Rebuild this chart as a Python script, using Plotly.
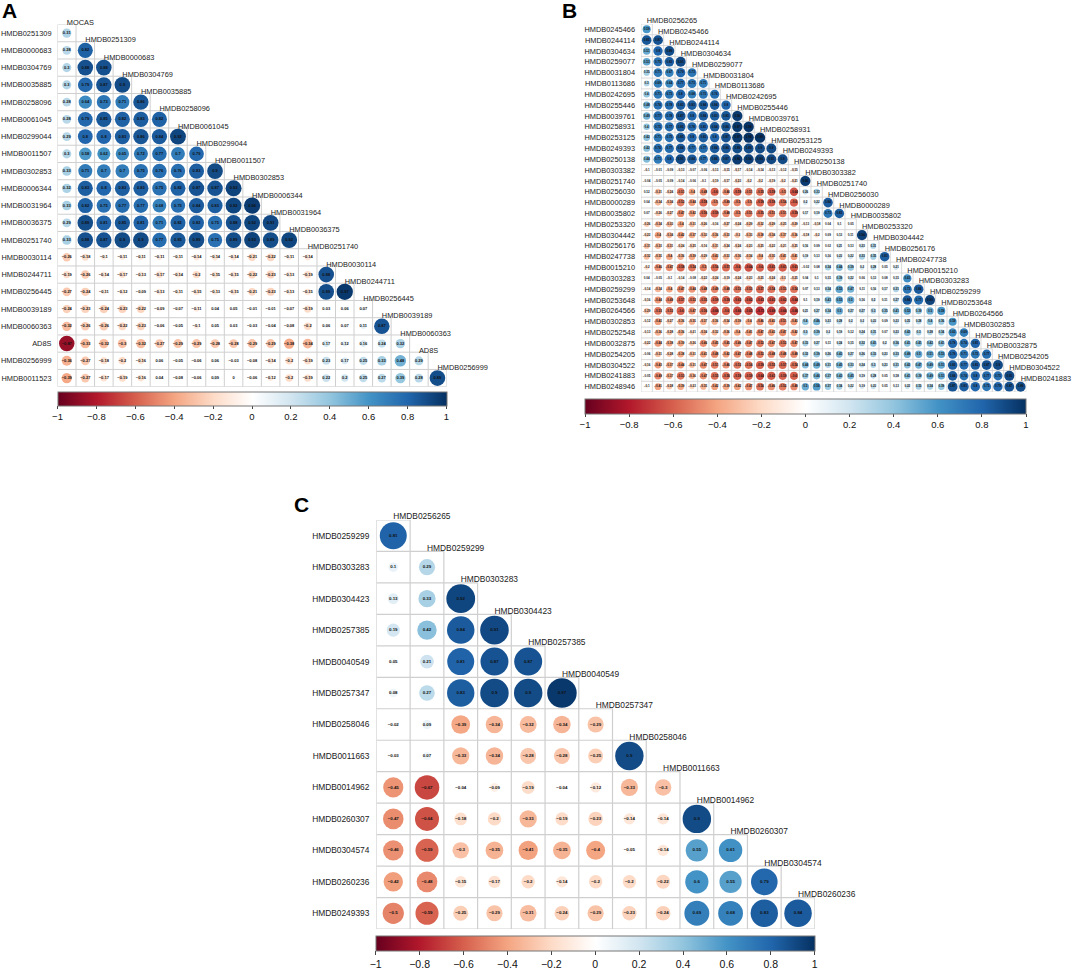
import plotly.graph_objects as go

W, H = 1072, 969

A_rows = ["HMDB0251309","HMDB0000683","HMDB0304769","HMDB0035885","HMDB0258096","HMDB0061045","HMDB0299044","HMDB0011507","HMDB0302853","HMDB0006344","HMDB0031964","HMDB0036375","HMDB0251740","HMDB0030114","HMDB0244711","HMDB0256445","HMDB0039189","HMDB0060363","AD8S","HMDB0256999","HMDB0011523"]
A_cols = ["MOCAS","HMDB0251309","HMDB0000683","HMDB0304769","HMDB0035885","HMDB0258096","HMDB0061045","HMDB0299044","HMDB0011507","HMDB0302853","HMDB0006344","HMDB0031964","HMDB0036375","HMDB0251740","HMDB0030114","HMDB0244711","HMDB0256445","HMDB0039189","HMDB0060363","AD8S","HMDB0256999"]
A_values = [
 [0.31],
 [0.28,0.82],
 [0.3,0.88,0.88],
 [0.3,0.79,0.87,0.9],
 [0.28,0.64,0.73,0.71,0.86],
 [0.28,0.79,0.85,0.82,0.83,0.82],
 [0.29,0.8,0.8,0.83,0.86,0.84,0.92],
 [0.3,0.58,0.62,0.65,0.72,0.77,0.7,0.79],
 [0.33,0.71,0.7,0.7,0.75,0.76,0.76,0.83,0.9],
 [0.32,0.83,0.8,0.83,0.83,0.75,0.82,0.87,0.87,0.93],
 [0.33,0.82,0.75,0.77,0.77,0.68,0.75,0.84,0.83,0.92,0.96],
 [0.29,0.89,0.81,0.85,0.81,0.71,0.82,0.82,0.75,0.88,0.92,0.91],
 [0.33,0.88,0.87,0.9,0.9,0.77,0.85,0.89,0.75,0.89,0.93,0.89,0.92],
 [-0.26,-0.18,-0.1,-0.11,-0.11,-0.11,-0.11,-0.14,-0.14,-0.14,-0.21,-0.22,-0.11,-0.14],
 [-0.19,-0.26,-0.14,-0.17,-0.13,-0.17,-0.14,-0.2,-0.15,-0.15,-0.22,-0.23,-0.13,-0.19,0.88],
 [-0.27,-0.24,-0.11,-0.12,-0.09,-0.13,-0.11,-0.15,-0.13,-0.15,-0.21,-0.23,-0.13,-0.15,0.89,0.97],
 [-0.24,-0.23,-0.24,-0.23,-0.22,-0.09,-0.07,-0.11,0.04,0.05,-0.01,-0.01,-0.07,-0.19,0.03,0.06,0.07],
 [-0.32,-0.26,-0.26,-0.22,-0.23,-0.06,-0.05,-0.1,0.05,0.03,-0.03,-0.04,-0.08,-0.2,0.06,0.07,0.11,0.87],
 [-0.87,-0.33,-0.32,-0.3,-0.32,-0.27,-0.29,-0.29,-0.28,-0.28,-0.29,-0.29,-0.38,-0.34,0.17,0.12,0.16,0.24,0.32],
 [-0.36,-0.27,-0.18,-0.2,-0.16,0.06,-0.05,-0.06,0.06,-0.03,-0.08,-0.14,-0.2,-0.19,0.23,0.17,0.25,0.33,0.48,0.29],
 [-0.39,-0.27,-0.17,-0.19,-0.16,0.04,-0.08,-0.06,0.09,0,-0.06,-0.12,-0.2,-0.19,0.22,0.2,0.25,0.27,0.39,0.28,0.89],
]

B_rows = ["HMDB0245466","HMDB0244114","HMDB0304634","HMDB0259077","HMDB0031804","HMDB0113686","HMDB0242695","HMDB0255446","HMDB0039761","HMDB0258931","HMDB0253125","HMDB0249393","HMDB0250138","HMDB0303382","HMDB0251740","HMDB0256030","HMDB0000289","HMDB0035802","HMDB0253320","HMDB0304442","HMDB0256176","HMDB0247738","HMDB0015210","HMDB0303283","HMDB0259299","HMDB0253648","HMDB0264566","HMDB0302853","HMDB0252548","HMDB0032875","HMDB0254205","HMDB0304522","HMDB0241883","HMDB0248946"]
B_cols = ["HMDB0256265"] + B_rows[:-1]
B_values = [
 [0.59],
 [0.85,0.87],
 [0.51,0.8,0.89],
 [0.53,0.75,0.83,0.91],
 [0.35,0.71,0.67,0.79,0.73],
 [0.3,0.69,0.64,0.77,0.73,0.71],
 [0.4,0.71,0.73,0.8,0.68,0.73,0.76],
 [0.48,0.76,0.78,0.83,0.83,0.84,0.84,0.8],
 [0.49,0.77,0.78,0.87,0.8,0.84,0.83,0.85,0.96],
 [0.4,0.75,0.77,0.85,0.78,0.81,0.84,0.86,0.97,0.98],
 [0.42,0.71,0.75,0.85,0.8,0.83,0.8,0.87,0.97,0.98,0.99],
 [0.42,0.76,0.77,0.84,0.77,0.77,0.84,0.86,0.89,0.89,0.9,0.9],
 [0.44,0.71,0.8,0.91,0.84,0.77,0.86,0.87,0.96,0.94,0.94,0.91,0.9],
 [-0.1,-0.01,-0.09,-0.13,-0.07,-0.06,-0.13,-0.15,-0.17,-0.14,-0.14,-0.13,-0.12,-0.15],
 [-0.04,-0.05,-0.09,-0.14,-0.06,-0.1,-0.19,-0.17,-0.23,-0.2,-0.2,-0.19,-0.2,-0.21,0.96],
 [0.12,-0.31,-0.24,-0.51,-0.4,-0.48,-0.6,-0.46,-0.59,-0.51,-0.55,-0.59,-0.5,-0.64,0.26,0.33],
 [0.04,-0.34,-0.34,-0.52,-0.44,-0.58,-0.5,-0.49,-0.5,-0.5,-0.59,-0.59,-0.54,-0.6,0.2,0.22,0.84],
 [0.07,-0.26,-0.27,-0.47,-0.42,-0.56,-0.59,-0.48,-0.5,-0.51,-0.55,-0.51,-0.51,-0.59,0.17,0.19,0.73,0.83],
 [-0.26,-0.34,-0.33,-0.4,-0.31,-0.26,-0.16,-0.27,-0.24,-0.29,-0.32,-0.29,-0.25,-0.29,-0.13,-0.18,0.04,0.1,0.05],
 [-0.22,-0.4,-0.34,-0.42,-0.37,-0.32,-0.36,-0.33,-0.3,-0.33,-0.38,-0.34,-0.37,-0.36,-0.18,-0.2,0.09,0.13,0.11,0.94],
 [-0.31,-0.33,-0.31,-0.24,-0.25,-0.16,-0.31,-0.24,-0.24,-0.23,-0.25,-0.22,-0.21,-0.25,0.16,0.09,0.02,0.21,0.13,0.23,0.31],
 [-0.32,-0.35,-0.4,-0.36,-0.39,-0.29,-0.43,-0.33,-0.36,-0.34,-0.4,-0.35,-0.41,-0.41,0.19,0.13,0.16,0.23,0.22,0.33,0.35,0.83],
 [-0.2,-0.46,-0.47,-0.58,-0.54,-0.5,-0.56,-0.57,-0.6,-0.64,-0.6,-0.61,-0.61,-0.61,-0.02,0.08,0.34,0.44,0.39,0.2,0.28,0.05,0.21],
 [0.04,-0.05,-0.1,-0.14,-0.08,-0.22,-0.24,-0.19,-0.24,-0.23,-0.25,-0.24,-0.3,-0.25,0.04,0.1,0.15,0.39,0.22,0.06,0.13,0.08,0.15,0.63],
 [-0.14,-0.34,-0.4,-0.47,-0.44,-0.48,-0.49,-0.48,-0.53,-0.53,-0.57,-0.54,-0.53,-0.54,0.07,0.13,0.34,0.53,0.47,0.11,0.16,0.17,0.31,0.73,0.84],
 [-0.16,-0.44,-0.49,-0.57,-0.52,-0.55,-0.59,-0.59,-0.62,-0.62,-0.63,-0.63,-0.62,-0.64,0.1,0.19,0.43,0.53,0.5,0.16,0.2,0.11,0.27,0.84,0.77,0.93],
 [-0.29,-0.53,-0.53,-0.6,-0.47,-0.56,-0.66,-0.6,-0.66,-0.65,-0.73,-0.69,-0.66,-0.66,0.21,0.27,0.34,0.5,0.27,0.27,0.3,0.35,0.41,0.52,0.39,0.5,0.59],
 [-0.12,-0.42,-0.27,-0.36,-0.35,-0.37,-0.36,-0.34,-0.39,-0.4,-0.46,-0.43,-0.51,-0.43,0.4,0.46,0.23,0.28,0.2,0.2,0.23,0.09,0.23,0.25,0.28,0.4,0.36,0.59],
 [-0.13,-0.36,-0.28,-0.36,-0.21,-0.34,-0.32,-0.36,-0.4,-0.41,-0.47,-0.43,-0.47,-0.42,0.3,0.39,0.2,0.19,0.12,0.24,0.31,0.07,0.23,0.42,0.3,0.28,0.34,0.63,0.69],
 [-0.22,-0.44,-0.38,-0.39,-0.26,-0.46,-0.45,-0.45,-0.46,-0.47,-0.52,-0.47,-0.52,-0.47,0.33,0.27,0.11,0.24,0.15,0.32,0.41,0.2,0.36,0.41,0.41,0.42,0.41,0.79,0.74,0.81],
 [-0.06,-0.31,-0.28,-0.38,-0.31,-0.41,-0.48,-0.42,-0.47,-0.48,-0.52,-0.48,-0.48,-0.48,0.32,0.39,0.26,0.43,0.27,0.26,0.33,0.23,0.33,0.49,0.5,0.51,0.53,0.79,0.71,0.72,0.77],
 [-0.16,-0.43,-0.37,-0.44,-0.31,-0.47,-0.51,-0.46,-0.53,-0.54,-0.59,-0.55,-0.57,-0.54,0.44,0.49,0.31,0.45,0.33,0.24,0.3,0.23,0.31,0.42,0.47,0.49,0.51,0.83,0.77,0.83,0.87,0.9],
 [-0.05,-0.49,-0.37,-0.53,-0.36,-0.47,-0.55,-0.56,-0.59,-0.59,-0.64,-0.61,-0.59,-0.6,0.37,0.46,0.37,0.43,0.45,0.19,0.28,0.05,0.18,0.41,0.39,0.49,0.51,0.84,0.74,0.8,0.77,0.75,0.91],
 [-0.1,-0.41,-0.28,-0.39,-0.23,-0.35,-0.42,-0.39,-0.42,-0.47,-0.54,-0.46,-0.52,-0.48,0.5,0.56,0.37,0.34,0.22,0.19,0.23,0.05,0.13,0.22,0.33,0.34,0.39,0.87,0.83,0.8,0.73,0.79,0.87,0.89],
]

C_rows = ["HMDB0259299","HMDB0303283","HMDB0304423","HMDB0257385","HMDB0040549","HMDB0257347","HMDB0258046","HMDB0011663","HMDB0014962","HMDB0260307","HMDB0304574","HMDB0260236","HMDB0249393"]
C_cols = ["HMDB0256265"] + C_rows[:-1]
C_values = [
 [0.81],
 [0.1,0.29],
 [0.13,0.33,0.92],
 [0.19,0.42,0.84,0.91],
 [0.05,0.21,0.81,0.87,0.87],
 [0.08,0.27,0.83,0.9,0.9,0.97],
 [-0.02,0.09,-0.39,-0.34,-0.32,-0.34,-0.29],
 [-0.03,0.07,-0.33,-0.34,-0.28,-0.28,-0.25,0.9],
 [-0.45,-0.67,-0.04,-0.09,-0.19,-0.04,-0.12,-0.33,-0.3],
 [-0.47,-0.64,-0.18,-0.2,-0.33,-0.19,-0.23,-0.14,-0.14,0.9],
 [-0.46,-0.59,-0.3,-0.35,-0.41,-0.35,-0.4,-0.05,-0.14,0.55,0.61],
 [-0.42,-0.48,-0.15,-0.17,-0.2,-0.14,-0.2,-0.2,-0.22,0.6,0.55,0.79],
 [-0.5,-0.59,-0.25,-0.29,-0.31,-0.24,-0.29,-0.23,-0.24,0.69,0.68,0.83,0.84],
]

COLORBAR_TICKS = [-1,-0.8,-0.6,-0.4,-0.2,0,0.2,0.4,0.6,0.8,1]
PALETTE = ["#67001F","#B2182B","#D6604D","#F4A582","#FDDBC7","#FFFFFF","#D1E5F0","#92C5DE","#4393C6","#2166AC","#053061"]
SCALE = [[i/10, c] for i, c in enumerate(PALETTE)]
FONT = "Liberation Sans"

panels = [
 dict(rows=A_rows, cols=A_cols, vals=A_values, box=(57.5,446.7,24.5,386.7), cb=(57.5,392.3,389.2,14.4),
      dia=16.6, val_size=4.0, lab_size=7.4, tick_size=9.5, grid=1.0, standoff=5, ticklen=3, lab_drop=0.14),
 dict(rows=B_rows, cols=B_cols, vals=B_values, box=(641,1026.3,23.9,392.1), cb=(585,399.3,441.3,14.7),
      dia=10.5, val_size=3.0, lab_size=7.4, tick_size=9.5, grid=0.8, standoff=5, ticklen=3, lab_drop=0.13),
 dict(rows=C_rows, cols=C_cols, vals=C_values, box=(376.4,814.9,520,929), cb=(375.7,935.7,439.3,15),
      dia=30, val_size=4.4, lab_size=8.4, tick_size=10.5, grid=1.2, standoff=6, ticklen=4, lab_drop=0.05),
]

fig = go.Figure()
layout = {}
for p_i, p in enumerate(panels):
    sfx = "" if p_i == 0 else str(p_i + 1)
    xa, ya = "x" + sfx, "y" + sfx
    n = len(p["rows"])
    l, r, t, b = p["box"]

    # staircase grid of the lower triangle, derived from the number of rows
    gx, gy = [], []
    for k in range(n + 1):
        gx += [0, min(k + 1, n), None]; gy += [k, k, None]
        gx += [k, k, None]; gy += [max(k - 1, 0), n, None]
    fig.add_trace(go.Scatter(x=gx, y=gy, xaxis=xa, yaxis=ya, mode="lines",
                             line=dict(color="#cfcfcf", width=p["grid"]),
                             hoverinfo="skip", showlegend=False))

    xs, ys, vs, txt = [], [], [], []
    for i, row in enumerate(p["vals"]):
        for j, v in enumerate(row):
            xs.append(j + 0.5); ys.append(i + 0.5); vs.append(v)
            txt.append(f"{v:g}".replace("-", "\u2212"))
    fig.add_trace(go.Scatter(x=xs, y=ys, xaxis=xa, yaxis=ya, mode="markers+text",
                             text=txt, textposition="middle center",
                             textfont=dict(family=FONT, size=p["val_size"], color="#111111", weight="bold"),
                             marker=dict(color=vs, coloraxis="coloraxis" + sfx, opacity=1,
                                         size=[p["dia"] * abs(v) ** 0.5 for v in vs], line=dict(width=0)),
                             showlegend=False, cliponaxis=False))

    fig.add_trace(go.Scatter(x=[j + 0.5 for j in range(n)], y=[j + p["lab_drop"] for j in range(n)],
                             xaxis=xa, yaxis=ya,
                             mode="text", text=p["cols"], textposition="top right",
                             textfont=dict(family=FONT, size=p["lab_size"], color="#222222"),
                             hoverinfo="skip", showlegend=False, cliponaxis=False))

    layout["xaxis" + sfx] = dict(domain=[l / W, r / W], range=[0, n], anchor=ya, showgrid=False,
                                 zeroline=False, showticklabels=False, ticks="", showline=False)
    layout["yaxis" + sfx] = dict(domain=[1 - b / H, 1 - t / H], range=[n, 0], anchor=xa, showgrid=False,
                                 zeroline=False, ticks="", showline=False, tickmode="array",
                                 tickvals=[i + 0.5 for i in range(n)], ticktext=p["rows"],
                                 ticklabelstandoff=p["standoff"],
                                 tickfont=dict(family=FONT, size=p["lab_size"], color="#222222"))
    cx, cy, cl, ct = p["cb"]
    layout["coloraxis" + sfx] = dict(
        colorscale=SCALE, cmin=-1, cmax=1,
        colorbar=dict(orientation="h", xref="paper", yref="paper", x=cx / W, xanchor="left",
                      y=1 - cy / H, yanchor="top", lenmode="pixels", len=cl,
                      thicknessmode="pixels", thickness=ct, xpad=0, ypad=0,
                      outlinecolor="#777777", outlinewidth=1, borderwidth=0,
                      tickmode="array", tickvals=COLORBAR_TICKS,
                      ticktext=[f"{v:g}".replace("-", "\u2212") for v in COLORBAR_TICKS],
                      ticks="outside", ticklen=p["ticklen"], tickcolor="#444444", tickwidth=0.8,
                      tickfont=dict(family=FONT, size=p["tick_size"], color="#111111")))

letters = [("A", 0, 10), ("B", 560, 10), ("C", 292, 504)]
annotations = [dict(text=f"<b>{s}</b>", xref="paper", yref="paper", x=px / W, y=1 - py / H,
                    xanchor="left", yanchor="middle", showarrow=False,
                    font=dict(family=FONT, size=21, color="#000000")) for s, px, py in letters]

fig.update_layout(width=W, height=H, margin=dict(l=0, r=0, t=0, b=0, autoexpand=False), paper_bgcolor="white",
                  plot_bgcolor="white", showlegend=False, annotations=annotations,
                  font=dict(family=FONT), **layout)
fig.write_html("out.html", config=dict(displayModeBar=False),
               post_script="document.body.style.margin='0';document.documentElement.style.overflow='hidden';")
